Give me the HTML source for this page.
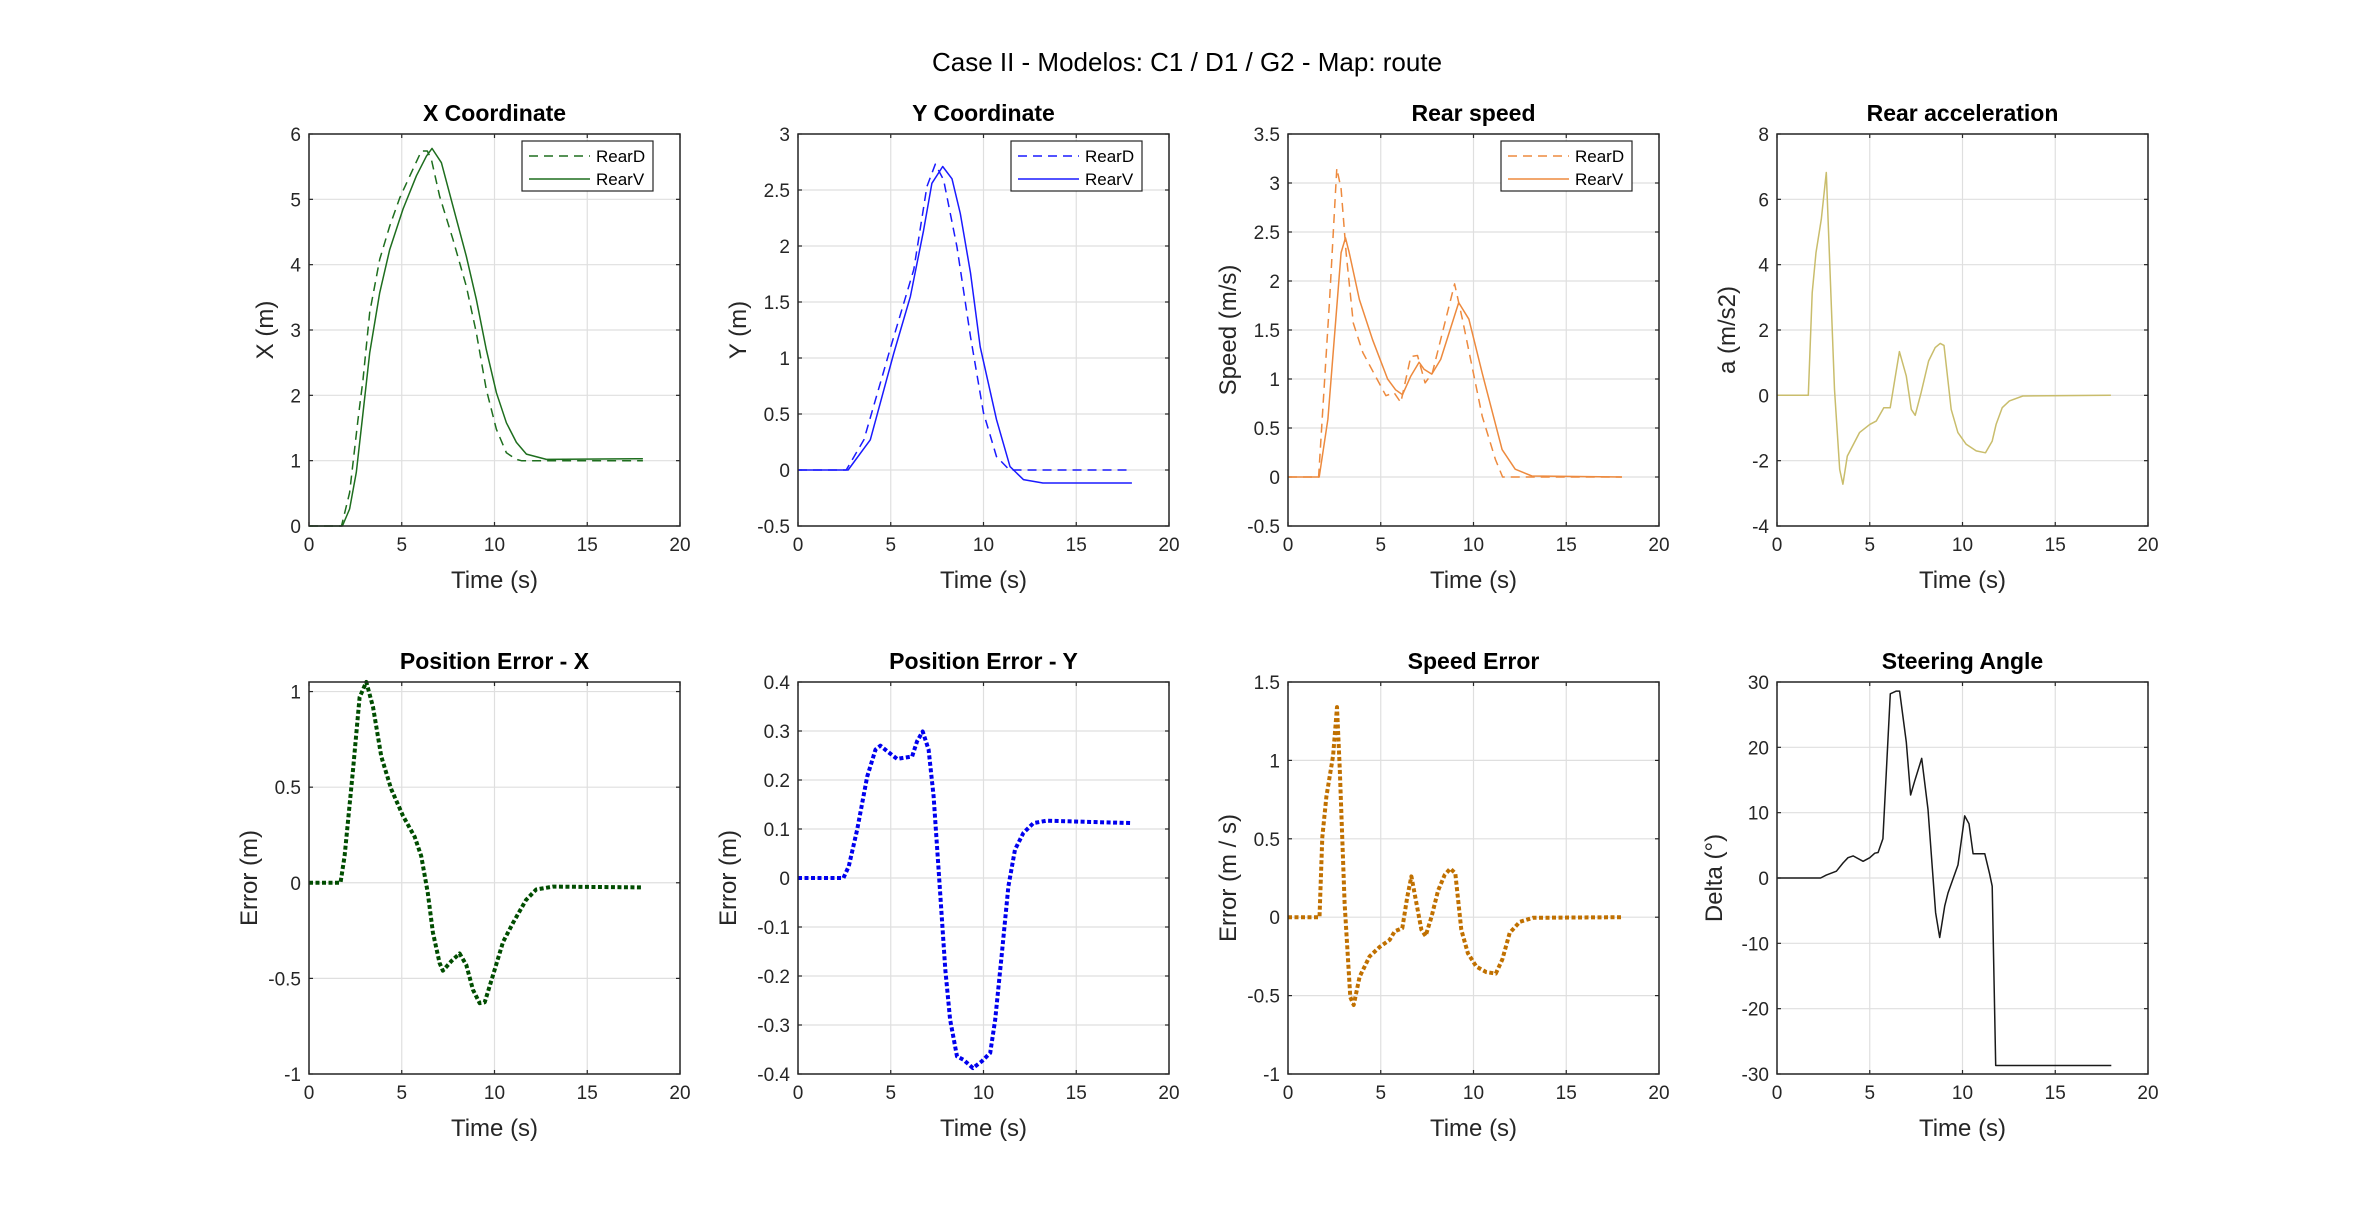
<!DOCTYPE html>
<html><head><meta charset="utf-8"><style>
body{margin:0;background:#fff;}
svg{display:block;font-family:"Liberation Sans",Arial,sans-serif;}
</style></head><body>
<svg id="fig" width="2375" height="1205" viewBox="0 0 2375 1205" xmlns="http://www.w3.org/2000/svg">
<rect width="2375" height="1205" fill="#fff"/>
<text x="1187" y="71" text-anchor="middle" font-size="26" fill="#000">Case II - Modelos: C1 / D1 / G2 - Map: route</text>
</svg>
<script>
// ---- data ----
const xTicks = [0,5,10,15,20];
const xcD_t = [0,1.75,2.19,2.64,2.91,3.27,3.81,4.35,4.89,5.6,6.06,6.38,6.6,7.04,7.76,8.48,9.02,9.56,10.1,10.64,11.18,11.45,18];
const xcD_v = [0,0,0.51,1.63,2.24,3.27,4.08,4.59,5.02,5.46,5.74,5.74,5.61,5.05,4.39,3.67,2.96,2.09,1.48,1.12,1.02,1.0,1.0];
const xcV_t = [0,1.8,2.19,2.55,2.91,3.27,3.81,4.35,5.07,5.79,6.33,6.63,7.14,7.76,8.48,9.02,9.56,10.1,10.64,11.18,11.72,12.8,18];
const xcV_v = [0,0,0.26,0.82,1.73,2.65,3.57,4.23,4.85,5.36,5.66,5.78,5.56,4.9,4.13,3.47,2.7,2.04,1.58,1.28,1.1,1.02,1.03];
const ycD_t = [0,2.6,3.55,5.0,6.24,6.95,7.4,7.85,8.57,9.3,10.0,10.7,11.4,18];
const ycD_v = [0,0,0.27,1.1,1.79,2.53,2.73,2.59,1.99,1.19,0.51,0.12,0,0];
const ycV_t = [0,2.7,3.9,5.16,6.06,6.77,7.22,7.8,8.3,8.75,9.3,9.82,10.7,11.43,12.15,13.2,18];
const ycV_v = [0,0,0.27,1.04,1.55,2.14,2.56,2.71,2.6,2.29,1.76,1.1,0.45,0.03,-0.086,-0.116,-0.116];
const spD_t = [0,1.65,2.24,2.63,2.86,3.13,3.52,4.03,5.28,5.72,6.08,6.62,6.98,7.39,7.78,8.98,9.4,10.47,11.18,11.57,18];
const spD_v = [0,0,1.81,3.15,2.94,2.29,1.57,1.27,0.83,0.86,0.76,1.23,1.24,0.96,1.06,1.97,1.61,0.62,0.18,0,0];
const spV_t = [0,1.68,2.15,2.86,3.1,3.3,3.85,4.56,5.37,5.8,6.17,6.62,7.07,7.33,7.75,8.23,9.2,9.75,10.47,11.54,12.25,13.15,18];
const spV_v = [0,0,0.59,2.29,2.44,2.29,1.81,1.4,1.0,0.89,0.84,1.03,1.17,1.1,1.05,1.2,1.78,1.61,1.06,0.28,0.08,0.01,0];
const acc_t = [0,1.69,1.9,2.1,2.39,2.66,3.1,3.38,3.55,3.79,4.45,5.0,5.35,5.76,6.1,6.6,6.97,7.24,7.45,7.77,8.17,8.53,8.8,9.0,9.39,9.75,10.2,10.74,11.24,11.6,11.81,12.14,12.53,13.25,18];
const acc_v = [0,0,3.14,4.37,5.39,6.82,0.18,-2.27,-2.72,-1.86,-1.14,-0.89,-0.79,-0.38,-0.38,1.34,0.59,-0.43,-0.61,0.08,1.05,1.46,1.59,1.53,-0.43,-1.14,-1.5,-1.7,-1.76,-1.4,-0.89,-0.38,-0.17,-0.02,0];
const ex_t = [0,1.7,1.92,2.37,2.73,3.09,3.45,3.9,4.43,5.07,5.7,6.05,6.4,6.68,7.04,7.22,7.67,8.12,8.48,8.84,9.2,9.47,9.9,10.46,11.0,11.7,12.25,13.15,18];
const ex_v = [0,0,0.14,0.59,0.97,1.05,0.92,0.66,0.49,0.35,0.24,0.14,-0.05,-0.26,-0.42,-0.46,-0.41,-0.37,-0.43,-0.56,-0.63,-0.625,-0.49,-0.31,-0.21,-0.09,-0.035,-0.02,-0.024];
const ey_t = [0,2.45,2.74,3.19,3.73,4.18,4.44,4.8,5.34,6.15,6.42,6.72,7.04,7.31,7.58,7.94,8.2,8.57,8.92,9.43,9.91,10.36,10.63,10.99,11.34,11.7,12.15,12.69,13.4,18];
const ey_v = [0,0,0.024,0.099,0.207,0.262,0.27,0.259,0.243,0.248,0.279,0.299,0.262,0.167,0.017,-0.187,-0.289,-0.364,-0.371,-0.388,-0.374,-0.357,-0.289,-0.153,-0.017,0.058,0.092,0.112,0.117,0.112];
const es_t = [0,1.7,1.85,2.07,2.43,2.64,2.79,3.05,3.36,3.54,3.86,4.4,4.94,5.48,5.75,6.16,6.43,6.65,6.92,7.19,7.42,7.73,8.09,8.45,8.75,9.02,9.34,9.7,10.15,10.69,11.2,11.55,11.95,12.49,13.2,18];
const es_v = [0,0,0.51,0.77,1.03,1.34,0.94,0.09,-0.51,-0.56,-0.38,-0.25,-0.19,-0.145,-0.09,-0.07,0.13,0.26,0.09,-0.08,-0.12,0,0.17,0.27,0.31,0.28,-0.08,-0.23,-0.315,-0.35,-0.36,-0.27,-0.1,-0.03,-0.004,0];
const st_t = [0,2.35,2.66,3.2,3.56,3.83,4.1,4.64,5.0,5.27,5.45,5.71,6.11,6.43,6.61,6.97,7.2,7.42,7.8,8.14,8.55,8.77,9.04,9.22,9.76,10.12,10.35,10.57,11.2,11.46,11.6,11.79,18.02];
const st_v = [0,0,0.44,1.04,2.3,3.1,3.38,2.56,3.1,3.8,3.9,6.0,28.2,28.6,28.6,20.8,12.7,14.8,18.3,10.5,-5.3,-9.1,-4.3,-2.3,2.0,9.5,8.3,3.7,3.7,0.65,-1.25,-28.7,-28.7];
const yt_xc = [0,1,2,3,4,5,6], yl_xc = ['0','1','2','3','4','5','6'];
const yt_yc = [-0.5,0,0.5,1,1.5,2,2.5,3], yl_yc = ['-0.5','0','0.5','1','1.5','2','2.5','3'];
const yt_sp = [-0.5,0,0.5,1,1.5,2,2.5,3,3.5], yl_sp = ['-0.5','0','0.5','1','1.5','2','2.5','3','3.5'];
const yt_ac = [-4,-2,0,2,4,6,8], yl_ac = ['-4','-2','0','2','4','6','8'];
const yt_ex = [-1,-0.5,0,0.5,1], yl_ex = ['-1','-0.5','0','0.5','1'];
const yt_ey = [-0.4,-0.3,-0.2,-0.1,0,0.1,0.2,0.3,0.4], yl_ey = ['-0.4','-0.3','-0.2','-0.1','0','0.1','0.2','0.3','0.4'];
const yt_es = [-1,-0.5,0,0.5,1,1.5], yl_es = ['-1','-0.5','0','0.5','1','1.5'];
const yt_st = [-30,-20,-10,0,10,20,30], yl_st = ['-30','-20','-10','0','10','20','30'];

const NS='http://www.w3.org/2000/svg';
const fig=document.getElementById('fig');
function mk(tag,attrs,parent){const e=document.createElementNS(NS,tag);for(const k in attrs)e.setAttribute(k,attrs[k]);(parent||fig).appendChild(e);return e;}
const W=371, H=392;
function plot(o){
  const L=o.left, T=o.top, g=mk('g',{});
  
  
  const xs=v=>L+v/20*W;
  const ys=v=>T+H-(v-o.ymin)/(o.ymax-o.ymin)*H;
  mk('rect',{x:L,y:T,width:W,height:H,fill:'#fff'},g);
  xTicks.forEach(t=>{
    const gl=mk('line',{x1:xs(t),x2:xs(t),y1:T,y2:T+H,stroke:'#dfdfdf','stroke-width':1.2},g);
    
    
    mk('line',{x1:xs(t),x2:xs(t),y1:T+H,y2:T+H-4,stroke:'#262626','stroke-width':1.2},g);
    mk('line',{x1:xs(t),x2:xs(t),y1:T,y2:T+4,stroke:'#262626','stroke-width':1.2},g);
    const tx=mk('text',{x:xs(t),y:T+H+25,'text-anchor':'middle','font-size':19,fill:'#262626'},g);
    tx.textContent=String(t);
    
    
  });
  o.yt.forEach((t,i)=>{
    const gl=mk('line',{x1:L,x2:L+W,y1:ys(t),y2:ys(t),stroke:'#dfdfdf','stroke-width':1.2},g);
    
    
    mk('line',{x1:L,x2:L+4,y1:ys(t),y2:ys(t),stroke:'#262626','stroke-width':1.2},g);
    mk('line',{x1:L+W,x2:L+W-4,y1:ys(t),y2:ys(t),stroke:'#262626','stroke-width':1.2},g);
    const tx=mk('text',{x:L-8,y:ys(t)+7,'text-anchor':'end','font-size':19,fill:'#262626'},g);
    tx.textContent=o.yl[i];
    
    
  });
  o.series.forEach(s=>{
    let d='';s.t.forEach((t,i)=>{d+=(i?'L':'M')+xs(t).toFixed(1)+','+ys(s.v[i]).toFixed(1);});
    const p=mk('path',{d:d,fill:'none',stroke:s.color,'stroke-width':s.w||1.5,'stroke-linejoin':'round'},g);
    if(s.dash)p.setAttribute('stroke-dasharray',s.dash);
    
    
  });
  mk('rect',{x:L,y:T,width:W,height:H,fill:'none',stroke:'#262626','stroke-width':1.5},g);
  const ti=mk('text',{x:L+W/2,y:T-13,'text-anchor':'middle','font-size':23,'font-weight':'bold',fill:'#000'},g);
  ti.textContent=o.title;
  
  
  const xl=mk('text',{x:L+W/2,y:T+H+62,'text-anchor':'middle','font-size':24,fill:'#262626'},g);
  xl.textContent='Time (s)';
  
  
  const yx=L-o.ylOff;
  const yl=mk('text',{x:yx,y:T+H/2,'text-anchor':'middle','font-size':24,fill:'#262626',transform:'rotate(-90 '+yx+' '+(T+H/2)+')'},g);
  yl.textContent=o.ylabel;
  
  
  if(o.legend){
    const bx=L+W-27-131, by=T+7;
    const lg=mk('g',{},g);
    
    
    mk('rect',{x:bx,y:by,width:131,height:50,fill:'#fff',stroke:'#262626','stroke-width':1.2},lg);
    o.series.forEach((s,i)=>{
      const yy=by+15+i*23;
      const ln=mk('line',{x1:bx+7,x2:bx+68,y1:yy,y2:yy,stroke:s.color,'stroke-width':1.5},lg);
      if(s.dash)ln.setAttribute('stroke-dasharray',s.dash);
      const tx=mk('text',{x:bx+74,y:yy+6,'font-size':17,fill:'#000'},lg);
      tx.textContent=s.label;
      
      
    });
  }
}
const C=[309,798,1288,1777], R=[134,682];
plot({name:'x-coordinate-plot',left:C[0],top:R[0],ymin:0,ymax:6,yt:yt_xc,yl:yl_xc,title:'X Coordinate',ylabel:'X (m)',ylOff:36,legend:true,
 series:[{t:xcD_t,v:xcD_v,color:'#1e6e1e',dash:'9,6',label:'RearD',name:'rearD-x-line'},{t:xcV_t,v:xcV_v,color:'#1e6e1e',label:'RearV',name:'rearV-x-line'}]});
plot({name:'y-coordinate-plot',left:C[1],top:R[0],ymin:-0.5,ymax:3,yt:yt_yc,yl:yl_yc,title:'Y Coordinate',ylabel:'Y (m)',ylOff:52,legend:true,
 series:[{t:ycD_t,v:ycD_v,color:'#1a1aff',dash:'9,6',label:'RearD',name:'rearD-y-line'},{t:ycV_t,v:ycV_v,color:'#1a1aff',label:'RearV',name:'rearV-y-line'}]});
plot({name:'rear-speed-plot',left:C[2],top:R[0],ymin:-0.5,ymax:3.5,yt:yt_sp,yl:yl_sp,title:'Rear speed',ylabel:'Speed (m/s)',ylOff:52,legend:true,
 series:[{t:spD_t,v:spD_v,color:'#ed8a3e',dash:'9,6',label:'RearD',name:'rearD-speed-line'},{t:spV_t,v:spV_v,color:'#ed8a3e',label:'RearV',name:'rearV-speed-line'}]});
plot({name:'rear-acceleration-plot',left:C[3],top:R[0],ymin:-4,ymax:8,yt:yt_ac,yl:yl_ac,title:'Rear acceleration',ylabel:'a (m/s2)',ylOff:42,
 series:[{t:acc_t,v:acc_v,color:'#c9bd6c',name:'acceleration-line'}]});
plot({name:'position-error-x-plot',left:C[0],top:R[1],ymin:-1,ymax:1.05,yt:yt_ex,yl:yl_ex,title:'Position Error - X',ylabel:'Error (m)',ylOff:52,
 series:[{t:ex_t,v:ex_v,color:'#004d00',w:4,dash:'4,2.5',name:'error-x-line'}]});
plot({name:'position-error-y-plot',left:C[1],top:R[1],ymin:-0.4,ymax:0.4,yt:yt_ey,yl:yl_ey,title:'Position Error - Y',ylabel:'Error (m)',ylOff:62,
 series:[{t:ey_t,v:ey_v,color:'#0000ee',w:4,dash:'4,2.5',name:'error-y-line'}]});
plot({name:'speed-error-plot',left:C[2],top:R[1],ymin:-1,ymax:1.5,yt:yt_es,yl:yl_es,title:'Speed Error',ylabel:'Error (m / s)',ylOff:52,
 series:[{t:es_t,v:es_v,color:'#c07000',w:4,dash:'4,2.5',name:'speed-error-line'}]});
plot({name:'steering-angle-plot',left:C[3],top:R[1],ymin:-30,ymax:30,yt:yt_st,yl:yl_st,title:'Steering Angle',ylabel:'Delta (°)',ylOff:55,
 series:[{t:st_t,v:st_v,color:'#1a1a1a',name:'steering-line'}]});
</script>
</body></html>
